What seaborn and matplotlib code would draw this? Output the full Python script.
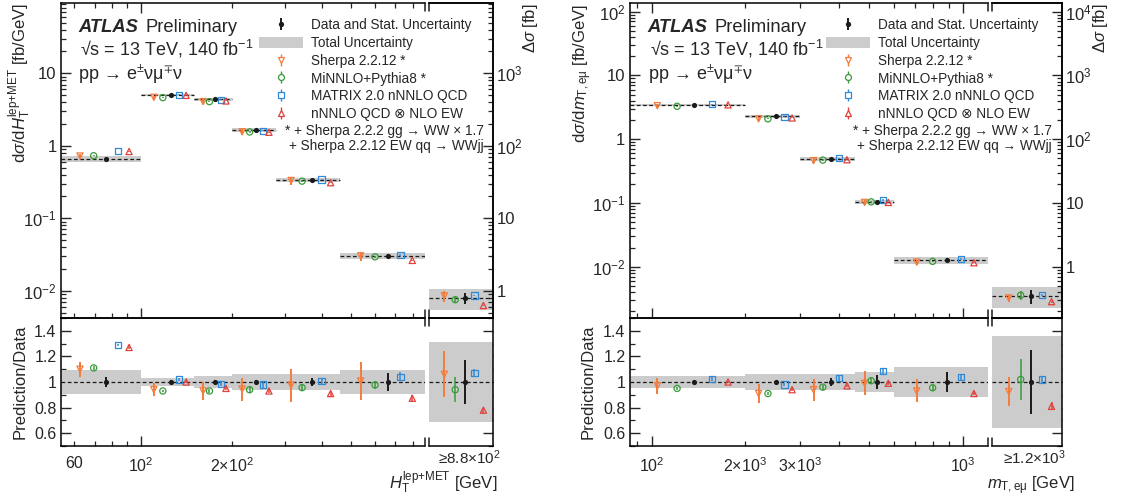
import numpy as np
import pandas as pd
import matplotlib
matplotlib.use("Agg")
import matplotlib.pyplot as plt
import seaborn as sns
from matplotlib.ticker import FixedLocator, FuncFormatter, LogLocator, MultipleLocator, NullLocator, NullFormatter
from matplotlib.patches import Patch
from matplotlib.lines import Line2D
from matplotlib.legend_handler import HandlerTuple

# ---------------- data: H_T^{lep+MET} ----------------
HT_EDGES = [54, 100, 150, 200, 280, 460, 880]          # last edge = start of overflow bin
HT_XSEC = [0.656, 4.96, 4.37, 1.65, 0.34, 0.030, 0.008]
HT_STAT = [0.042, 0.012, 0.012, 0.015, 0.028, 0.07, 0.17]
HT_TOTAL = [0.09, 0.035, 0.045, 0.062, 0.065, 0.095, 0.315]
HT_SHERPA = [1.10, 0.94, 0.93, 0.945, 0.975, 1.008, 1.06]
HT_SHERPA_ERR = [0.06, 0.05, 0.07, 0.09, 0.13, 0.15, 0.18]
HT_MINNLO = [1.11, 0.93, 0.93, 0.94, 0.956, 0.977, 0.94]
HT_MINNLO_ERR = [0.015, 0.01, 0.015, 0.025, 0.025, 0.03, 0.10]
HT_MATRIX = [1.29, 1.02, 0.985, 0.98, 1.005, 1.04, 1.07]
HT_MATRIX_ERR = [0.01, 0.01, 0.015, 0.025, 0.025, 0.035, 0.03]
HT_NNNLO = [1.27, 1.00, 0.95, 0.93, 0.91, 0.873, 0.78]
HT_NNNLO_ERR = [0.01, 0.008, 0.01, 0.015, 0.02, 0.025, 0.02]
HT_XTICK_LABELS = {60: "60", 100: "10$^{2}$", 200: "2×10$^{2}$"}
HT_OVERFLOW_LABEL = "≥8.8×10$^{2}$"

# ---------------- data: m_T,emu ----------------
MT_EDGES = [85, 200, 300, 450, 600, 1200]
MT_XSEC = [3.45, 2.29, 0.49, 0.103, 0.0127, 0.0035]
MT_STAT = [0.01, 0.01, 0.03, 0.055, 0.08, 0.25]
MT_TOTAL = [0.05, 0.062, 0.065, 0.078, 0.12, 0.36]
MT_SHERPA = [0.97, 0.91, 0.94, 0.99, 0.93, 0.925]
MT_SHERPA_ERR = [0.065, 0.075, 0.085, 0.095, 0.09, 0.115]
MT_MINNLO = [0.95, 0.91, 0.96, 1.01, 0.955, 1.02]
MT_MINNLO_ERR = [0.01, 0.015, 0.02, 0.025, 0.025, 0.16]
MT_MATRIX = [1.025, 0.98, 1.03, 1.085, 1.04, 1.02]
MT_MATRIX_ERR = [0.015, 0.015, 0.02, 0.025, 0.025, 0.03]
MT_NNNLO = [1.00, 0.94, 0.97, 0.99, 0.91, 0.81]
MT_NNNLO_ERR = [0.01, 0.01, 0.01, 0.015, 0.015, 0.03]
MT_XTICK_LABELS = {100: "10$^{2}$", 200: "2×10$^{3}$", 300: "3×10$^{3}$", 1000: "10$^{3}$"}
MT_OVERFLOW_LABEL = "≥1.2×10$^{3}$"

SERIES_NAMES = ["Sherpa 2.2.12 *", "MiNNLO+Pythia8 *", "MATRIX 2.0 nNNLO QCD", "nNNLO QCD ⊗ NLO EW"]
DATA_NAME = "Data and Stat. Uncertainty"
TOTAL_NAME = "Total Uncertainty"

# ---------------- style ----------------
sns.set_theme(style="ticks")
plt.rcParams.update({
    "font.family": ["Liberation Sans", "DejaVu Sans"],
    "mathtext.fontset": "custom",
    "mathtext.rm": "Liberation Sans",
    "mathtext.it": "Liberation Sans:italic",
    "mathtext.bf": "Liberation Sans:bold",
    "mathtext.fallback": "stixsans",
    "axes.linewidth": 1.1,
    "xtick.direction": "in",
    "ytick.direction": "in",
    "axes.edgecolor": "black",
})

COLORS = ["#f47c3c", "#3a9a3a", "#2e8ad8", "#e2413a"]
MARKERS = ["v", "o", "s", "^"]
FRACS = [0.24, 0.41, 0.71, 0.85]
DATA_FRAC = 0.56
GREY = "#cccccc"
DASH = (0, (3, 2))

W, H = 1125, 499
fig = plt.figure(figsize=(W / 100, H / 100), dpi=100)


def rect(x0, x1, ytop, ybot):
    return [x0 / W, 1 - ybot / H, (x1 - x0) / W, (ybot - ytop) / H]


def decade_fmt(v, pos=None):
    if v <= 0:
        return ""
    e = int(round(np.log10(v)))
    if abs(v - 10.0 ** e) > 1e-6 * 10.0 ** e:
        return ""
    if e == 0:
        return "1"
    if e == 1:
        return "10"
    return f"10$^{{{e}}}$"


Y_MAIN = (3.3, 318)
Y_RATIO = (318, 446)


def brk(ax, x, hpx):
    f = 8.0 / hpx
    for y0, y1 in [(0, f), (1 - f, 1)]:
        ax.plot([x, x], [y0, y1], transform=ax.transAxes, color="k", lw=1.1,
                clip_on=False, zorder=20)


def draw_panel(p):
    edges = np.array(p["edges"], float)
    xsec = np.array(p["xsec"], float)
    stat = np.array(p["stat"], float)
    tot = np.array(p["total"], float)
    nreg = len(edges) - 1
    lo, hi = np.log10(edges[:-1]), np.log10(edges[1:])

    axM = fig.add_axes(rect(*p["main"], *Y_MAIN))
    axMO = fig.add_axes(rect(*p["of"], *Y_MAIN))
    axR = fig.add_axes(rect(*p["main"], *Y_RATIO))
    axRO = fig.add_axes(rect(*p["of"], *Y_RATIO))
    for a in (axM, axR):
        a.set_xscale("log")
    axM.set_yscale("log")
    axMO.set_yscale("log")

    def xpos(f):
        return 10 ** (lo + f * (hi - lo))

    # bands and dashed lines
    for i in range(nreg + 1):
        if i < nreg:
            am, ar, xl, xr = axM, axR, edges[i], edges[i + 1]
        else:
            am, ar, xl, xr = axMO, axRO, 0.0, 1.0
        am.fill_between([xl, xr], xsec[i] * (1 - tot[i]), xsec[i] * (1 + tot[i]),
                        color=GREY, lw=0, zorder=1)
        am.plot([xl, xr], [xsec[i], xsec[i]], ls=DASH, color="k", lw=0.9, zorder=2)
        ar.fill_between([xl, xr], 1 - tot[i], 1 + tot[i], color=GREY, lw=0, zorder=1)
    for ar in (axR, axRO):
        ar.axhline(1.0, ls=DASH, color="k", lw=0.9, zorder=2)

    # predictions
    for k, (rat, err) in enumerate(zip(p["ratios"], p["errs"])):
        rat = np.array(rat, float)
        err = np.array(err, float)
        col, mk = COLORS[k], MARKERS[k]
        xr_ = xpos(FRACS[k])
        elw = 1.4 if k == 0 else 1.1
        for am, ar, xx, sl in [(axM, axR, xr_, slice(0, nreg)),
                               (axMO, axRO, np.array([FRACS[k]]), slice(nreg, nreg + 1))]:
            ym = xsec[sl] * rat[sl]
            am.errorbar(xx, ym, yerr=xsec[sl] * err[sl], fmt="none", ecolor=col,
                        elinewidth=elw, capsize=0, zorder=4)
            ar.errorbar(xx, rat[sl], yerr=err[sl], fmt="none", ecolor=col,
                        elinewidth=elw, capsize=0, zorder=4)
            for a, yy in [(am, ym), (ar, rat[sl])]:
                sns.scatterplot(x=xx, y=yy, ax=a, marker=mk, s=20, color=col,
                                facecolor="none", edgecolor=col, linewidth=0.9,
                                zorder=6, legend=False)

    # data
    xd = xpos(DATA_FRAC)
    for am, ar, xx, sl in [(axM, axR, xd, slice(0, nreg)),
                           (axMO, axRO, np.array([DATA_FRAC]), slice(nreg, nreg + 1))]:
        am.errorbar(xx, xsec[sl], yerr=xsec[sl] * stat[sl], fmt="none", ecolor="k",
                    elinewidth=1.4, capsize=0, zorder=5)
        ar.errorbar(xx, np.ones(len(xx)), yerr=stat[sl], fmt="none", ecolor="k",
                    elinewidth=1.4, capsize=0, zorder=5)
        sns.scatterplot(x=xx, y=xsec[sl], ax=am, marker="o", s=14, color="k",
                        edgecolor="k", linewidth=0, zorder=7, legend=False)
        sns.scatterplot(x=xx, y=np.ones(len(xx)), ax=ar, marker="o", s=14, color="k",
                        edgecolor="k", linewidth=0, zorder=7, legend=False)

    # limits
    for a in (axM, axR):
        a.set_xlim(edges[0], edges[-1])
    for a in (axMO, axRO):
        a.set_xlim(0, 1)
    axM.set_ylim(*p["ylim"])
    axMO.set_ylim(*p["ylim"])
    for a in (axR, axRO):
        a.set_ylim(0.5, 1.5)

    # twin (delta sigma) axis
    tw = axMO.twinx()
    tw.set_yscale("log")
    tw.set_ylim(p["ylim"][0] * 100, p["ylim"][1] * 100)

    labels = p["xtick_labels"]
    xfmt = FuncFormatter(lambda v, pos: labels.get(int(round(v)), ""))

    # main axes ticks
    axM.xaxis.set_major_locator(FixedLocator(p["major_x"]))
    axM.xaxis.set_minor_locator(FixedLocator(p["minor_x"]))
    axM.xaxis.set_major_formatter(NullFormatter())
    axM.xaxis.set_minor_formatter(NullFormatter())
    axM.yaxis.set_major_locator(FixedLocator(10.0 ** np.arange(-4, 4)))
    axM.yaxis.set_minor_locator(LogLocator(base=10, subs=np.arange(2, 10), numticks=30))
    axM.yaxis.set_major_formatter(FuncFormatter(decade_fmt))
    axM.yaxis.set_minor_formatter(NullFormatter())
    axM.tick_params(axis="x", which="both", top=True, bottom=True, labelbottom=False)
    axM.tick_params(axis="y", which="both", left=True, right=False, labelsize=12, pad=3)
    axM.tick_params(which="major", length=7, width=1.0)
    axM.tick_params(which="minor", length=3.5, width=0.9)

    axMO.xaxis.set_major_locator(NullLocator())
    axMO.xaxis.set_minor_locator(NullLocator())
    axMO.yaxis.set_major_locator(NullLocator())
    axMO.yaxis.set_minor_locator(NullLocator())
    axMO.tick_params(left=False, right=False, labelleft=False, labelbottom=False)

    tw.yaxis.set_major_locator(FixedLocator(10.0 ** np.arange(-2, 6)))
    tw.yaxis.set_minor_locator(LogLocator(base=10, subs=np.arange(2, 10), numticks=30))
    tw.yaxis.set_major_formatter(FuncFormatter(decade_fmt))
    tw.yaxis.set_minor_formatter(NullFormatter())
    tw.tick_params(axis="y", which="both", right=True, left=False, labelright=True,
                   labelsize=12, pad=2.5, direction="in")
    tw.tick_params(which="major", length=7, width=1.0)
    tw.tick_params(which="minor", length=3.5, width=0.9)
    tw.spines["left"].set_visible(False)

    # ratio axes ticks
    axR.xaxis.set_major_locator(FixedLocator(p["major_x"]))
    axR.xaxis.set_minor_locator(FixedLocator(p["minor_x"]))
    axR.xaxis.set_major_formatter(xfmt)
    axR.xaxis.set_minor_formatter(xfmt)
    axR.yaxis.set_major_locator(FixedLocator([0.6, 0.8, 1.0, 1.2, 1.4]))
    axR.yaxis.set_minor_locator(MultipleLocator(0.1))
    axR.yaxis.set_major_formatter(FuncFormatter(lambda v, pos: f"{v:g}"))
    axR.tick_params(axis="x", which="both", bottom=True, top=False, labelsize=11.5, pad=7.5)
    axR.tick_params(axis="y", which="both", left=True, right=False, labelsize=11.5, pad=3)
    axR.tick_params(which="major", length=7, width=1.0)
    axR.tick_params(which="minor", length=3.5, width=0.9)

    axRO.set_xticks([p["of_frac"]])
    axRO.set_xticklabels([p["overflow_label"]])
    axRO.xaxis.set_minor_locator(NullLocator())
    axRO.tick_params(axis="x", length=0, labelsize=11, pad=2)
    axRO.yaxis.set_major_locator(FixedLocator([0.6, 0.8, 1.0, 1.2, 1.4]))
    axRO.yaxis.set_minor_locator(MultipleLocator(0.1))
    axRO.tick_params(axis="y", which="both", left=False, right=True, labelleft=False,
                     labelright=False)
    axRO.tick_params(axis="y", which="major", length=7, width=1.0)
    axRO.tick_params(axis="y", which="minor", length=3.5, width=0.9)

    for a in (axM, axR):
        a.spines["right"].set_visible(False)
        a.set_xlabel("")
        a.set_ylabel("")
        brk(a, 1.0, (Y_MAIN[1] - Y_MAIN[0]) if a is axM else (Y_RATIO[1] - Y_RATIO[0]))
    for a in (axMO, axRO):
        a.spines["left"].set_visible(False)
        a.set_xlabel("")
        a.set_ylabel("")
        brk(a, 0.0, (Y_MAIN[1] - Y_MAIN[0]) if a is axMO else (Y_RATIO[1] - Y_RATIO[0]))
    for a in (axM, axMO, axR, axRO, tw):
        a.patch.set_alpha(0)

    # labels
    fig.text(p["ylab_x"] / W, 1 - 3.3 / H, p["ylabel"], rotation=90, ha="center",
             va="top", fontsize=12)
    fig.text(p["rlab_x"] / W, 1 - 382 / H, "Prediction/Data", rotation=90,
             ha="center", va="center", fontsize=12)
    fig.text(p["dsig_x"] / W, 1 - 3.3 / H, "Δ$\\sigma$ [fb]", rotation=90, ha="center",
             va="top", fontsize=12)
    fig.text(p["xlab_r"] / W, 1 - 489 / H, p["xlabel"], ha="right", va="baseline",
             fontsize=12)

    # ATLAS text
    fig.text(p["atlas_x"] / W, 1 - 32.3 / H, "ATLAS", fontsize=13.2,
             fontweight="bold", style="italic", va="baseline")
    fig.text(p["prelim_x"] / W, 1 - 32.3 / H, "Preliminary", fontsize=13.2,
             va="baseline")
    fig.text((p["atlas_x"] + 2) / W, 1 - 55.7 / H, "√s = 13 TeV, 140 fb$^{-1}$",
             fontsize=13, va="baseline")
    fig.text(p["atlas_x"] / W, 1 - 80 / H, "pp → e$^{\\pm}$νμ$^{\\mp}$ν",
             fontsize=13, va="baseline")

    # legend
    h_data = (Line2D([], [], color="k", marker="|", ls="none", ms=8, mew=1.4),
              Line2D([], [], color="k", marker="o", ls="none", ms=3.8, mew=0))
    h_tot = Patch(facecolor=GREY, edgecolor="none")
    handles = [h_data, h_tot]
    for k in range(4):
        handles.append((Line2D([], [], color=COLORS[k], marker="|", ls="none", ms=8, mew=1.0),
                        Line2D([], [], color=COLORS[k], marker=MARKERS[k], ls="none", ms=4.3,
                               mfc="white", mec=COLORS[k], mew=0.9)))
    names = [DATA_NAME, TOTAL_NAME] + SERIES_NAMES
    fig.legend(handles, names, loc="upper left",
               bbox_to_anchor=(p["leg_x"] / W, 1 - 18.5 / H), bbox_transform=fig.transFigure,
               frameon=False, fontsize=9.8, handlelength=3.2, handleheight=0.9,
               handletextpad=0.65, labelspacing=0.27, borderpad=0, borderaxespad=0,
               handler_map={tuple: HandlerTuple(ndivide=1)})
    fig.text(p["foot_x"] / W, 1 - 131 / H, "* + Sherpa 2.2.2 gg → WW × 1.7",
             ha="right", va="center", fontsize=9.8)
    fig.text(p["foot_x"] / W, 1 - 146 / H, "+ Sherpa 2.2.12 EW qq → WWjj",
             ha="right", va="center", fontsize=9.8)


LEFT = dict(edges=HT_EDGES, xsec=HT_XSEC, stat=HT_STAT, total=HT_TOTAL,
            ratios=[HT_SHERPA, HT_MINNLO, HT_MATRIX, HT_NNNLO],
            errs=[HT_SHERPA_ERR, HT_MINNLO_ERR, HT_MATRIX_ERR, HT_NNNLO_ERR],
            xtick_labels=HT_XTICK_LABELS, overflow_label=HT_OVERFLOW_LABEL,
            major_x=[100], minor_x=[60, 70, 80, 90, 200, 300, 400, 500, 600, 700, 800],
            ylim=(0.0042, 92.4),
            ylabel="d$\\sigma$/d$H_{\\mathrm{T}}^{\\mathrm{lep{+}MET}}$ [fb/GeV]",
            xlabel="$H_{\\mathrm{T}}^{\\mathrm{lep{+}MET}}$ [GeV]",
            main=(60.7, 425), of=(429, 493), of_frac=0.64, ylab_x=20, rlab_x=20,
            dsig_x=531, xlab_r=497, atlas_x=78, prelim_x=145.7, leg_x=259, foot_x=484)

RIGHT = dict(edges=MT_EDGES, xsec=MT_XSEC, stat=MT_STAT, total=MT_TOTAL,
             ratios=[MT_SHERPA, MT_MINNLO, MT_MATRIX, MT_NNNLO],
             errs=[MT_SHERPA_ERR, MT_MINNLO_ERR, MT_MATRIX_ERR, MT_NNNLO_ERR],
             xtick_labels=MT_XTICK_LABELS, overflow_label=MT_OVERFLOW_LABEL,
             major_x=[100, 1000], minor_x=[90, 200, 300, 400, 500, 600, 700, 800, 900],
             ylim=(0.00157, 135),
             ylabel="d$\\sigma$/d$m_{\\mathrm{T,eμ}}$ [fb/GeV]",
             xlabel="$m_{\\mathrm{T,eμ}}$ [GeV]",
             main=(629.6, 988), of=(992, 1062), of_frac=0.6, ylab_x=583, rlab_x=588,
             dsig_x=1100, xlab_r=1075, atlas_x=647.5, prelim_x=714.5, leg_x=826, foot_x=1052)

draw_panel(LEFT)
draw_panel(RIGHT)

fig.savefig("out.png", dpi=100)
